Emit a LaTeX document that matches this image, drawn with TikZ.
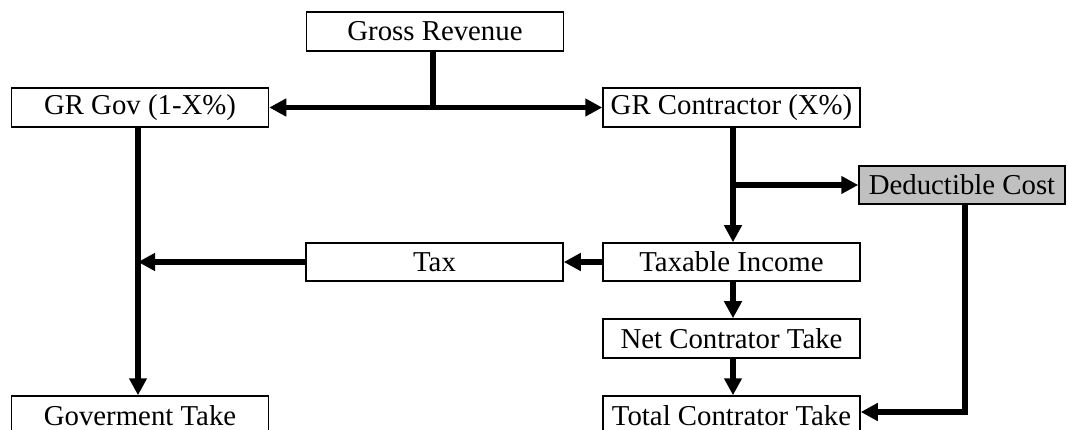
\documentclass[tikz,border=0pt]{standalone}
\usepackage{fontspec}
\setmainfont{Liberation Serif}
\usetikzlibrary{arrows.meta}
\definecolor{costgray}{HTML}{C0C0C0}
\tikzset{
  box/.style={draw=black, line width=1.5pt, fill=white, inner sep=0pt,
    minimum width=257pt, minimum height=39pt,
    font=\fontsize{28.8}{31}\selectfont},
  flow/.style={line width=5.5pt, -{Triangle[length=17pt,width=17pt]}},
  bar/.style={line width=5.5pt}
}
\begin{document}
\begin{tikzpicture}[x=1pt,y=-1pt]
\clip (0,0) rectangle (1068,430);
\fill[white] (0,0) rectangle (1068,430);

% boxes
\node[box] (gr)    at (435,31.5)  {Gross Revenue};
\node[box] (gov)   at (140,107.5) {GR Gov (1-X\%)};
\node[box] (con)   at (731.5,107.5) {GR Contractor (X\%)};
\node[box, fill=costgray, minimum width=206pt, minimum height=38pt] (ded) at (962,185) {Deductible Cost};
\node[box, minimum height=38pt] (tinc)  at (731.5,262) {Taxable Income};
\node[box, minimum height=38pt] (tax)   at (434.5,262) {Tax};
\node[box] (net)   at (731.5,338.5) {Net Contrator Take};
\node[box] (total) at (731.5,415.5) {Total Contrator Take};
\node[box] (gtake) at (140,415.5) {Goverment Take};

% junction points
\coordinate (split) at (433,108);
\coordinate (branch) at (733,185);
\coordinate (govline) at (138,262);
\coordinate (dedcorner) at (965,412);

% gross revenue split into the two shares
\draw[bar] (gr.south -| split) -- (split);
\draw[line width=5.5pt, {Triangle[length=17pt,width=17pt]}-{Triangle[length=17pt,width=17pt]}] (gov.east) -- (con.west);

% contractor side
\draw[flow] (con.south -| branch) -- (tinc.north -| branch);
\draw[flow] (branch) -- (ded.west);
\draw[flow] (tinc.south -| branch) -- (net.north -| branch);
\draw[flow] (net.south -| branch) -- (total.north -| branch);
\draw[flow] (ded.south -| dedcorner) -- (dedcorner) -- (total.east |- dedcorner);

% tax flow to government
\draw[flow] (tinc.west) -- (tax.east);
\draw[flow] (tax.west) -- (govline);
\draw[flow] (gov.south -| govline) -- (gtake.north -| govline);
\end{tikzpicture}
\end{document}
